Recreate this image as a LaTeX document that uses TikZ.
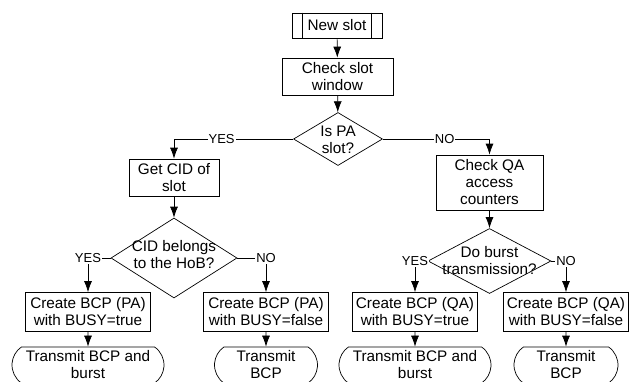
\documentclass[tikz,border=0pt]{standalone}
\usepackage{fontspec}
\setmainfont{Liberation Sans}
\usetikzlibrary{positioning,shapes.geometric,shapes.misc,arrows.meta}

\begin{document}
\begin{tikzpicture}[
  x=1pt, y=-1pt,
  line width=0.7pt,
  every node/.style={font=\fontsize{15.3}{17}\selectfont, align=center, inner sep=0pt},
  box/.style={rectangle, draw, minimum width=125pt, minimum height=39pt},
  dec/.style={diamond, draw},
  term/.style={rounded rectangle, rounded rectangle arc length=110, draw, minimum height=36pt},
  lbl/.style={fill=white, inner sep=1pt, font=\fontsize{13}{15}\selectfont},
  >={Latex[length=11pt,width=8pt]}
]
\clip (0,0) rectangle (635,381);

% top of the chart
\node[box, minimum width=90pt, minimum height=25pt] (new) at (337,25.5) {New slot};
\draw ([xshift=11pt]new.north west) -- ([xshift=11pt]new.south west);
\draw ([xshift=-11pt]new.north east) -- ([xshift=-11pt]new.south east);
\node[box, minimum width=111pt, minimum height=37pt] (check) at (337.5,76.5) {Check slot\\window};
\node[dec, minimum width=89pt, minimum height=53pt] (ispa) at (338,139) {};
\node (ispatxt) at (338,140) {Is PA\\slot?};

% PA branch
\node[box, minimum width=90pt, minimum height=37pt] (getcid) at (174,177.5) {Get CID of\\slot};
\node[dec, minimum width=126pt, minimum height=80pt] (cid) at (174,258) {};
\node (cidtxt) at (174,255) {CID belongs\\to the HoB?};
\node[box] (pat) at (88,312) {Create BCP (PA)\\with BUSY=true};
\node[box] (paf) at (266,312) {Create BCP (PA)\\with BUSY=false};
\node[term, minimum width=152pt] (tpat) at (88,365) {Transmit BCP and\\burst};
\node[term, minimum width=103pt] (tpaf) at (266,365) {Transmit\\BCP};

% QA branch
\node[box, minimum width=107pt, minimum height=55pt] (checkqa) at (489.5,182.5) {Check QA\\access\\counters};
\node[dec, minimum width=123pt, minimum height=65pt] (burst) at (489.5,261) {};
\node (bursttxt) at (489.5,260.5) {Do burst\\transmission?};
\node[box] (qat) at (415,312) {Create BCP (QA)\\with BUSY=true};
\node[box] (qaf) at (566,312) {Create BCP (QA)\\with BUSY=false};
\node[term, minimum width=152pt] (tqat) at (415,365) {Transmit BCP and\\burst};
\node[term, minimum width=104pt] (tqaf) at (566,365) {Transmit\\BCP};

\draw[->] (new) -- (check);
\draw[->] (check) -- (ispa);
\draw[->] (ispa.west) -| node[lbl, pos=0.3] (yes1) {YES} (getcid.north);
\draw[->] (ispa.east) -| node[lbl, pos=0.29] (no1) {NO} (checkqa.north);
\draw[->] (getcid) -- (cid);
\draw[->] (checkqa) -- (burst);
\draw[->] (cid.west) -| node[lbl, pos=0.5] (yes2) {YES} (pat.north);
\draw[->] (cid.east) -| node[lbl, pos=0.5] (no2) {NO} (paf.north);
\draw[->] (burst.west) -| node[lbl, pos=0.5] (yes3) {YES} (qat.north);
\draw[->] (burst.east) -| node[lbl, pos=0.5] (no3) {NO} (qaf.north);
\draw[->] (pat) -- (tpat);
\draw[->] (paf) -- (tpaf);
\draw[->] (qat) -- (tqat);
\draw[->] (qaf) -- (tqaf);

\end{tikzpicture}
\end{document}
